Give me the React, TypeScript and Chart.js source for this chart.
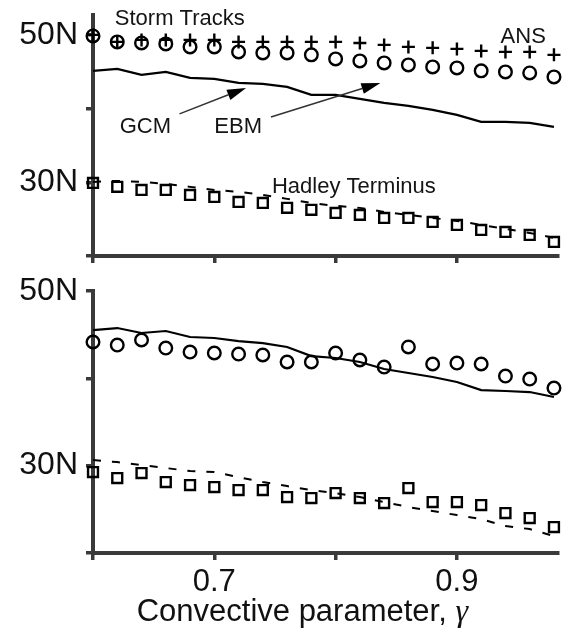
import React, { useEffect, useRef } from 'react';
import { Chart, registerables } from 'chart.js';

Chart.register(...registerables);

// Convective parameter values (x)
const GAMMA = [0.60, 0.62, 0.64, 0.66, 0.68, 0.70, 0.72, 0.74, 0.76, 0.78, 0.80, 0.82, 0.84, 0.86, 0.88, 0.90, 0.92, 0.94, 0.96, 0.98];

// Upper panel (latitude, degrees N)
const TOP_ANS_STORM = [50.0, 49.05, 49.32, 49.32, 49.32, 49.32, 49.05, 49.05, 49.05, 49.05, 49.05, 48.91, 48.64, 48.37, 48.24, 48.1, 47.83, 47.69, 47.69, 47.29];
const TOP_EBM_STORM = [49.86, 49.05, 48.91, 48.78, 48.37, 48.37, 47.69, 47.56, 47.56, 47.29, 46.74, 46.47, 46.2, 45.93, 45.66, 45.52, 45.12, 44.98, 44.84, 44.3];
const TOP_GCM_STORM = [45.12, 45.39, 44.57, 44.98, 44.17, 44.03, 43.49, 43.35, 42.94, 41.86, 41.86, 41.32, 40.77, 40.37, 39.82, 39.14, 38.2, 38.2, 38.06, 37.52];
const TOP_EBM_HADLEY = [29.92, 29.38, 28.97, 28.97, 28.29, 28.02, 27.34, 27.2, 26.53, 26.26, 25.85, 25.58, 25.17, 25.17, 24.63, 24.22, 23.54, 23.27, 22.86, 21.91];
const TOP_GCM_HADLEY = [30.05, 30.19, 30.05, 29.78, 29.38, 28.97, 28.7, 28.29, 27.75, 27.2, 26.8, 26.53, 25.98, 25.58, 25.17, 24.76, 24.22, 23.68, 23.13, 22.46];

// Lower panel (latitude, degrees N)
const BOT_EBM_STORM = [44.16, 43.81, 44.39, 43.47, 43.01, 42.9, 42.78, 42.67, 41.87, 41.87, 42.9, 42.1, 41.29, 43.59, 41.64, 41.75, 41.64, 40.26, 39.92, 38.89];
const BOT_GCM_STORM = [45.53, 45.76, 45.19, 45.42, 44.73, 44.62, 44.27, 44.04, 43.59, 42.55, 42.33, 41.87, 41.07, 40.61, 40.15, 39.58, 38.66, 38.55, 38.43, 37.86];
const BOT_EBM_HADLEY = [29.27, 28.58, 29.15, 28.12, 27.78, 27.55, 27.21, 27.21, 26.4, 26.29, 26.86, 26.29, 25.72, 27.43, 25.83, 25.83, 25.49, 24.57, 24.0, 22.97];
const BOT_GCM_HADLEY = [30.64, 30.41, 30.07, 29.73, 29.38, 29.27, 28.69, 28.12, 27.66, 27.21, 26.86, 26.4, 25.83, 25.26, 24.8, 24.34, 23.88, 23.08, 22.74, 21.94];

// Axes
const X_TICKS = [0.6, 0.7, 0.8, 0.9];
const X_TICK_LABELS = ['', '0.7', '', '0.9'];
const Y_TICKS = [20, 30, 40, 50];
const Y_TICK_LABELS = ['', '30N', '', '50N'];
const X_TITLE = 'Convective parameter, ';
const X_TITLE_SYMBOL = 'γ';

// Annotations of the upper panel (anchored in data coordinates)
const TOP_NOTES = [
  { text: 'Storm Tracks', x: 0.618, y: 51.36 },
  { text: 'ANS', x: 0.936, y: 48.91 },
  { text: 'GCM', x: 0.622, y: 36.7 },
  { text: 'EBM', x: 0.7, y: 36.7 },
  { text: 'Hadley Terminus', x: 0.7475, y: 28.56 },
];
const TOP_ARROWS = [
  { x0: 0.6713, y0: 39.28, x1: 0.7262, y1: 42.81 },
  { x0: 0.7467, y0: 38.87, x1: 0.8369, y1: 43.49 },
];

const SANS = '"Liberation Sans", Arial, sans-serif';
const INK = '#000';
const AXIS = '#3a3a3a';
const W = 567;
const H = 634;

const pts = (ys: number[]) => GAMMA.map((x, i) => ({ x, y: ys[i] }));

const marker = (label: string, ys: number[], style: string, r: number) => ({
  label,
  data: pts(ys),
  showLine: false,
  pointStyle: style,
  pointRadius: r,
  pointBorderWidth: 2.4,
  pointBorderColor: INK,
  pointBackgroundColor: 'rgba(0,0,0,0)',
  clip: false,
});

const line = (label: string, ys: number[], dashed: boolean) => ({
  label,
  data: pts(ys),
  showLine: true,
  borderColor: INK,
  borderWidth: dashed ? 2 : 2.2,
  borderDash: dashed ? [8, 11] : [],
  pointRadius: 0,
  fill: false,
  tension: 0,
  clip: false,
});

function notesPlugin(notes: any[], arrows: any[], withTitle: boolean) {
  return {
    id: 'notes',
    afterDatasetsDraw(chart: any) {
      const { ctx, scales, chartArea } = chart;
      const xs = scales.x;
      const ys = scales.y;
      ctx.save();
      ctx.fillStyle = '#141414';
      ctx.textAlign = 'left';
      ctx.textBaseline = 'alphabetic';
      ctx.font = `22px ${SANS}`;
      for (const n of notes) {
        ctx.fillText(n.text, xs.getPixelForValue(n.x), ys.getPixelForValue(n.y));
      }
      for (const a of arrows) {
        const ax = xs.getPixelForValue(a.x0);
        const ay = ys.getPixelForValue(a.y0);
        const bx = xs.getPixelForValue(a.x1);
        const by = ys.getPixelForValue(a.y1);
        const ang = Math.atan2(by - ay, bx - ax);
        const hl = 19;
        const hw = 5.5;
        const cx = bx - hl * Math.cos(ang);
        const cy = by - hl * Math.sin(ang);
        ctx.strokeStyle = '#333';
        ctx.lineWidth = 1.5;
        ctx.beginPath();
        ctx.moveTo(ax, ay);
        ctx.lineTo(cx, cy);
        ctx.stroke();
        ctx.fillStyle = '#000';
        ctx.beginPath();
        ctx.moveTo(bx, by);
        ctx.lineTo(cx + hw * Math.sin(ang), cy - hw * Math.cos(ang));
        ctx.lineTo(cx - hw * Math.sin(ang), cy + hw * Math.cos(ang));
        ctx.closePath();
        ctx.fill();
      }
      if (withTitle) {
        ctx.fillStyle = '#111';
        ctx.font = `31px ${SANS}`;
        const left = xs.getPixelForValue(0.636);
        const base = chartArea.bottom + 68;
        ctx.fillText(X_TITLE, left, base);
        const w = ctx.measureText(X_TITLE).width;
        ctx.font = 'italic 32px "Liberation Serif", "Times New Roman", serif';
        ctx.fillText(X_TITLE_SYMBOL, left + w, base);
      }
      ctx.restore();
    },
  };
}

function makeConfig(opts: {
  datasets: any[];
  top: number;
  bottom: number;
  yMax: number;
  xLabels: boolean;
  notes: any[];
  arrows: any[];
  title: boolean;
}) {
  const grid = {
    display: true,
    drawOnChartArea: false,
    drawTicks: true,
    tickLength: 7,
    tickWidth: 3.5,
    lineWidth: 3.5,
    tickColor: AXIS,
    color: AXIS,
  };
  const border = { display: true, color: AXIS, width: 4 };
  return {
    type: 'scatter',
    data: { datasets: opts.datasets },
    options: {
      animation: false,
      responsive: false,
      events: [],
      layout: { padding: { top: opts.top, right: W - 560, left: 0, bottom: 0 } },
      plugins: { legend: { display: false }, tooltip: { enabled: false }, title: { display: false } },
      scales: {
        x: {
          type: 'linear',
          min: 0.6,
          max: 0.983,
          afterBuildTicks(s: any) {
            s.ticks = X_TICKS.map((v) => ({ value: v }));
          },
          afterFit(s: any) {
            s.height = H - opts.bottom;
            s.paddingLeft = 0;
            s.paddingRight = 0;
          },
          ticks: {
            autoSkip: false,
            maxRotation: 0,
            padding: 4,
            color: '#111',
            font: { family: SANS, size: 31 },
            callback: (_v: any, i: number) => (opts.xLabels ? X_TICK_LABELS[i] : ''),
          },
          grid,
          border,
        },
        y: {
          type: 'linear',
          min: 20,
          max: opts.yMax,
          afterBuildTicks(s: any) {
            s.ticks = Y_TICKS.map((v) => ({ value: v }));
          },
          afterFit(s: any) {
            s.width = 93;
            s.paddingTop = 0;
            s.paddingBottom = 0;
          },
          ticks: {
            autoSkip: false,
            padding: 8,
            color: '#111',
            font: { family: SANS, size: 32 },
            callback: (_v: any, i: number) => Y_TICK_LABELS[i],
          },
          grid,
          border,
        },
      },
    },
    plugins: [notesPlugin(opts.notes, opts.arrows, opts.title)],
  };
}

export default function App() {
  const topRef = useRef<HTMLCanvasElement>(null);
  const botRef = useRef<HTMLCanvasElement>(null);

  useEffect(() => {
    const top = new Chart(
      topRef.current as HTMLCanvasElement,
      makeConfig({
        datasets: [
          marker('ANS storm tracks', TOP_ANS_STORM, 'cross', 6.5),
          marker('EBM storm tracks', TOP_EBM_STORM, 'circle', 6.3),
          marker('EBM Hadley terminus', TOP_EBM_HADLEY, 'rect', 7),
          line('GCM storm tracks', TOP_GCM_STORM, false),
          line('GCM Hadley terminus', TOP_GCM_HADLEY, true),
        ],
        top: 15,
        bottom: 256,
        yMax: 52.7,
        xLabels: false,
        notes: TOP_NOTES,
        arrows: TOP_ARROWS,
        title: false,
      }) as any
    );
    const bot = new Chart(
      botRef.current as HTMLCanvasElement,
      makeConfig({
        datasets: [
          marker('EBM storm tracks', BOT_EBM_STORM, 'circle', 6.3),
          marker('EBM Hadley terminus', BOT_EBM_HADLEY, 'rect', 7),
          line('GCM storm tracks', BOT_GCM_STORM, false),
          line('GCM Hadley terminus', BOT_GCM_HADLEY, true),
        ],
        top: 291,
        bottom: 553,
        yMax: 50,
        xLabels: true,
        notes: [],
        arrows: [],
        title: true,
      }) as any
    );
    return () => {
      top.destroy();
      bot.destroy();
    };
  }, []);

  return (
    <div style={{ position: 'fixed', left: 0, top: 0, width: W, height: H, background: '#fff' }}>
      <canvas ref={topRef} width={W} height={H} style={{ position: 'absolute', left: 0, top: 0 }} />
      <canvas ref={botRef} width={W} height={H} style={{ position: 'absolute', left: 0, top: 0 }} />
    </div>
  );
}
